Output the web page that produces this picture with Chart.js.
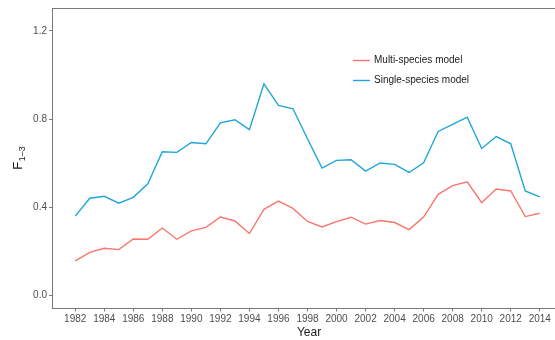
<!DOCTYPE html>
<html>
<head>
<meta charset="utf-8">
<script src="https://cdn.jsdelivr.net/npm/chart.js@4"></script>
<style>
  html, body { margin: 0; padding: 0; background: #fff; overflow: hidden; }
  #wrap { width: 555px; height: 340px; overflow: hidden; }
</style>
</head>
<body>
<div id="wrap"><canvas id="chart-f13" width="566" height="340"></canvas></div>
<script>
var years = [1982, 1983, 1984, 1985, 1986, 1987, 1988, 1989, 1990, 1991, 1992,
    1993, 1994, 1995, 1996, 1997, 1998, 1999, 2000, 2001, 2002, 2003,
    2004, 2005, 2006, 2007, 2008, 2009, 2010, 2011, 2012, 2013, 2014];

var multiSpecies = [0.157, 0.196, 0.214, 0.208, 0.256, 0.255, 0.306, 0.255, 0.293, 0.309, 0.356,
    0.338, 0.281, 0.391, 0.428, 0.395, 0.336, 0.311, 0.335, 0.355, 0.324, 0.340,
    0.331, 0.299, 0.356, 0.459, 0.498, 0.516, 0.421, 0.483, 0.474, 0.358, 0.373];

var singleSpecies = [0.360, 0.441, 0.450, 0.419, 0.445, 0.507, 0.652, 0.649, 0.694, 0.688, 0.783,
    0.797, 0.752, 0.960, 0.862, 0.847, 0.711, 0.578, 0.613, 0.616, 0.564, 0.601,
    0.595, 0.558, 0.602, 0.744, 0.776, 0.809, 0.667, 0.721, 0.688, 0.474, 0.447];

var xTicks = [1982, 1984, 1986, 1988, 1990, 1992, 1994, 1996, 1998, 2000, 2002,
    2004, 2006, 2008, 2010, 2012, 2014];
var yTicks = [0.0, 0.4, 0.8, 1.2];

var FONT = "'Liberation Sans', Arial, sans-serif";
var AXIS_COLOR = '#7a7a7a';

function toPoints(values) {
    return years.map((y, i) => ({ x: y, y: values[i] }));
}

// legend, titles and top border drawn by hand (ggplot style)
var decorations = {
    id: 'decorations',
    afterDraw(chart) {
        var ctx = chart.ctx;
        var area = chart.chartArea;
        ctx.save();

        // top border of the panel
        ctx.strokeStyle = AXIS_COLOR;
        ctx.lineWidth = 1;
        ctx.beginPath();
        ctx.moveTo(area.left, area.top + 0.5);
        ctx.lineTo(area.right, area.top + 0.5);
        ctx.stroke();

        // legend inside the panel
        ctx.font = '10px ' + FONT;
        ctx.textBaseline = 'middle';
        ctx.textAlign = 'left';
        chart.data.datasets.forEach((ds, i) => {
            var y = 60.5 + i * 20;
            ctx.strokeStyle = ds.borderColor;
            ctx.lineWidth = 1.4;
            ctx.beginPath();
            ctx.moveTo(353, y);
            ctx.lineTo(370, y);
            ctx.stroke();
            ctx.fillStyle = '#1a1a1a';
            ctx.fillText(ds.label, 374, y);
        });

        // x title
        ctx.fillStyle = '#1a1a1a';
        ctx.font = '12px ' + FONT;
        ctx.textAlign = 'center';
        ctx.fillText('Year', 309, 333);

        // y title F with subscript 1–3
        ctx.translate(21.5, (area.top + area.bottom) / 2);
        ctx.rotate(-Math.PI / 2);
        ctx.textBaseline = 'alphabetic';
        ctx.textAlign = 'left';
        ctx.font = '13px ' + FONT;
        var wF = ctx.measureText('F').width;
        ctx.font = '9px ' + FONT;
        var wSub = ctx.measureText('1–3').width;
        var start = -(wF + wSub) / 2;
        ctx.font = '13px ' + FONT;
        ctx.fillText('F', start, 0);
        ctx.font = '9px ' + FONT;
        ctx.fillText('1–3', start + wF + 0.5, 3);

        ctx.restore();
    }
};

var canvasF13 = document.getElementById('chart-f13');

var chartF13 = new Chart(canvasF13.getContext('2d'), {
    type: 'line',
    data: {
        datasets: [{
            label: 'Multi-species model',
            data: toPoints(multiSpecies),
            borderColor: '#F8766D',
            borderWidth: 1.4,
            pointRadius: 0,
            tension: 0,
            fill: false
        }, {
            label: 'Single-species model',
            data: toPoints(singleSpecies),
            borderColor: '#1FA6D9',
            borderWidth: 1.4,
            pointRadius: 0,
            tension: 0,
            fill: false
        }]
    },
    options: {
        responsive: false,
        animation: false,
        layout: {
            padding: { top: 7, right: 3, left: 0, bottom: 0 }
        },
        plugins: {
            legend: { display: false },
            title: { display: false },
            tooltip: { enabled: false }
        },
        scales: {
            x: {
                type: 'linear',
                min: 1980.4,
                max: 2015.6,
                afterBuildTicks: scale => {
                    scale.ticks = xTicks.map(v => ({ value: v }));
                },
                afterFit: scale => {
                    scale.height = 31.5;
                },
                grid: {
                    drawOnChartArea: false,
                    drawTicks: true,
                    tickLength: 3,
                    color: AXIS_COLOR
                },
                border: { display: true, color: AXIS_COLOR, width: 1 },
                ticks: {
                    callback: v => String(v),
                    maxRotation: 0,
                    autoSkip: false,
                    padding: 2,
                    font: { family: FONT, size: 10 },
                    color: '#4d4d4d'
                }
            },
            y: {
                type: 'linear',
                min: -0.059,
                max: 1.304,
                afterBuildTicks: scale => {
                    scale.ticks = yTicks.map(v => ({ value: v }));
                },
                afterFit: scale => {
                    scale.width = 52;
                },
                grid: {
                    drawOnChartArea: false,
                    drawTicks: true,
                    tickLength: 3,
                    color: AXIS_COLOR
                },
                border: { display: true, color: AXIS_COLOR, width: 1 },
                ticks: {
                    callback: v => v.toFixed(1),
                    padding: 2,
                    font: { family: FONT, size: 10 },
                    color: '#4d4d4d'
                }
            }
        }
    },
    plugins: [decorations]
});
</script>
</body>
</html>
